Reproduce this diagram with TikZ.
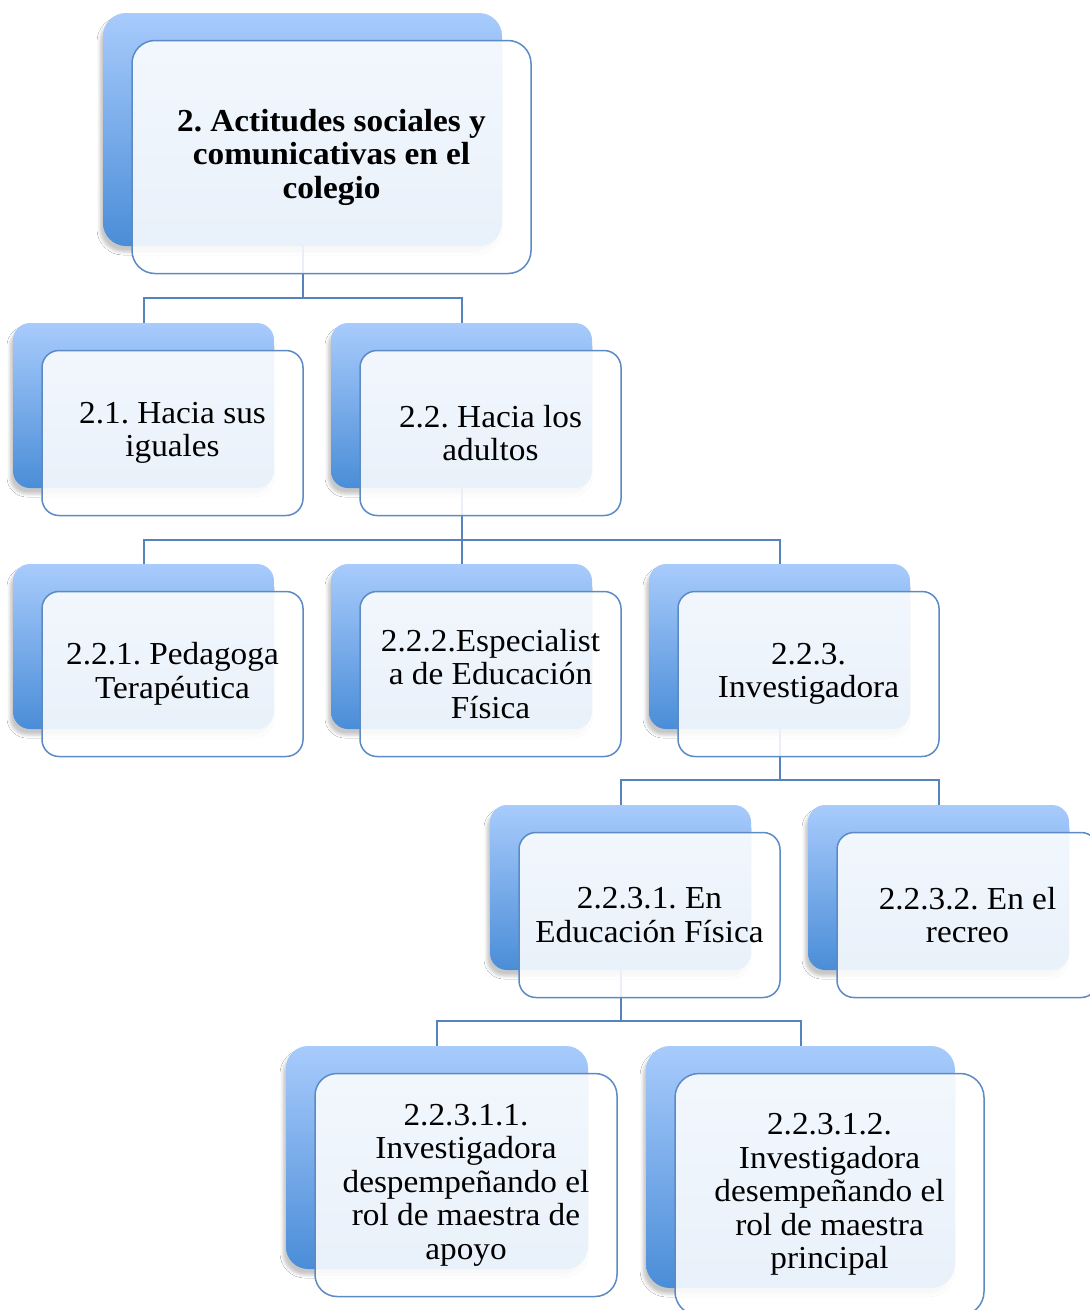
\documentclass[tikz,border=0pt]{standalone}
\usepackage{fontspec}
\setmainfont[FakeStretch=1.04]{Liberation Serif}
\usetikzlibrary{shadows.blur}
\definecolor{bktop}{HTML}{A8CBFC}
\definecolor{bkbot}{HTML}{4A8DD8}
\definecolor{edgeblue}{HTML}{5B8AC4}
\definecolor{connblue}{HTML}{5683BE}
\begin{document}
\frenchspacing
\begin{tikzpicture}[x=1pt,y=-1pt,
  backbox/.style={draw=none, inner sep=0pt, top color=bktop, bottom color=bkbot,
    blur shadow={shadow xshift=-3pt, shadow yshift=-6pt, shadow opacity=22, shadow blur radius=3pt}},
  frontbox/.style={draw=edgeblue, line width=1.5pt, fill=white, fill opacity=0.88, text opacity=1,
    inner sep=0pt, align=center, font=\fontsize{32}{33.5}\selectfont},
  smallbox/.style={minimum width=261pt, minimum height=165pt, rounded corners=17pt},
  connector/.style={draw=connblue, line width=2pt}
]
\useasboundingbox (0,0) rectangle (1090,1310);
\clip (0,0) rectangle (1090,1310);
\fill[white] (0,0) rectangle (1090,1310);

% back boxes
\node[backbox, minimum width=399pt, minimum height=233pt, rounded corners=23pt] (b0) at (302.5,129.5) {};
\node[backbox, smallbox] (b21) at (143.5,405.5) {};
\node[backbox, smallbox] (b22) at (461.5,405.5) {};
\node[backbox, smallbox] (b221) at (143.5,646.5) {};
\node[backbox, smallbox] (b222) at (461.5,646.5) {};
\node[backbox, smallbox] (b223) at (779.5,646.5) {};
\node[backbox, smallbox] (b2231) at (620.5,887.5) {};
\node[backbox, smallbox] (b2232) at (938.5,887.5) {};
\node[backbox, minimum width=302pt, minimum height=223pt, rounded corners=22pt] (b22311) at (437,1157.5) {};
\node[backbox, minimum width=309pt, minimum height=242pt, rounded corners=24pt] (b22312) at (800.5,1167) {};

% connectors
\coordinate (bus1) at (0,298);
\coordinate (bus2) at (0,540);
\coordinate (bus3) at (0,780);
\coordinate (bus4) at (0,1021);
\draw[connector] (b0.south) -- (b0.south |- bus1) -| (b21.north);
\draw[connector] (b0.south |- bus1) -| (b22.north);
\draw[connector] (b22.south) -- (b22.south |- bus2) -| (b221.north);
\draw[connector] (b22.south |- bus2) -- (b222.north);
\draw[connector] (b22.south |- bus2) -| (b223.north);
\draw[connector] (b223.south) -- (b223.south |- bus3) -| (b2231.north);
\draw[connector] (b223.south |- bus3) -| (b2232.north);
\draw[connector] (b2231.south) -- (b2231.south |- bus4) -| (b22311.north);
\draw[connector] (b2231.south |- bus4) -| (b22312.north);

% front boxes
\node[frontbox, minimum width=399pt, minimum height=233pt, rounded corners=23pt] (f0) at (331.5,157)
  {\bfseries 2. Actitudes sociales y\\\bfseries comunicativas en el\\\bfseries colegio};
\node[frontbox, smallbox] (f21) at (172.5,433) {2.1. Hacia sus\\iguales};
\node[frontbox, smallbox] (f22) at (490.5,433) {2.2. Hacia los\\adultos};
\node[frontbox, smallbox] (f221) at (172.5,674) {2.2.1. Pedagoga\\Terapéutica};
\node[frontbox, smallbox] (f222) at (490.5,674) {2.2.2.Especialist\\a de Educación\\Física};
\node[frontbox, smallbox] (f223) at (808.5,674) {2.2.3.\\Investigadora};
\node[frontbox, smallbox] (f2231) at (649.5,915) {2.2.3.1. En\\Educación Física};
\node[frontbox, smallbox] (f2232) at (967.5,915) {2.2.3.2. En el\\recreo};
\node[frontbox, minimum width=302pt, minimum height=223pt, rounded corners=22pt] (f22311) at (466,1185)
  {2.2.3.1.1.\\Investigadora\\despempeñando el\\rol de maestra de\\apoyo};
\node[frontbox, minimum width=309pt, minimum height=242pt, rounded corners=24pt] (f22312) at (829.5,1194.5)
  {2.2.3.1.2.\\Investigadora\\desempeñando el\\rol de maestra\\principal};
\end{tikzpicture}
\end{document}
